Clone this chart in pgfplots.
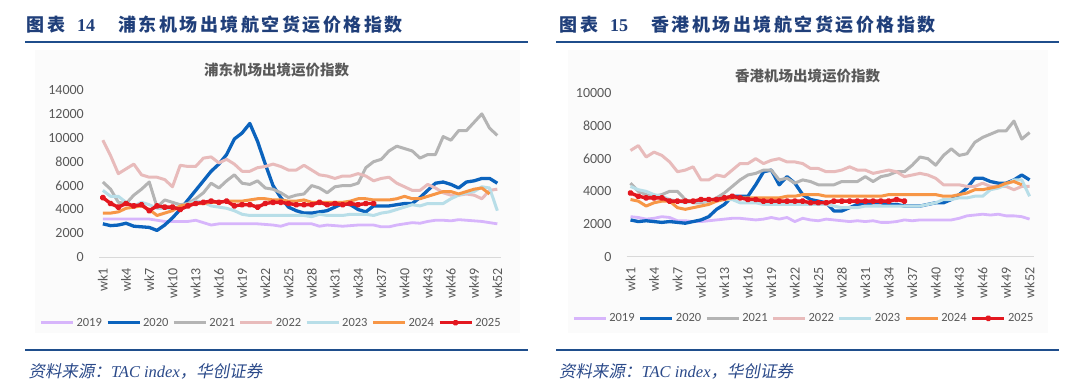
\documentclass[border=0pt]{standalone}
\usepackage{fontspec}
\usepackage{pgfplots}
\usepackage{pgfplotstable}
\pgfplotsset{compat=1.18}
\setmainfont{Carlito}
\newfontfamily\cjk{Noto Sans CJK SC}
\newfontfamily\cjkt[LetterSpace=14]{Noto Sans CJK SC}
\newfontfamily\cjkit[FakeSlant=0.18]{Noto Sans CJK SC}
\newfontfamily\serif{Liberation Serif}
\definecolor{c19}{HTML}{D7B5FB}
\definecolor{c20}{HTML}{0B63BD}
\definecolor{c21}{HTML}{B4B4B4}
\definecolor{c22}{HTML}{E8BBBB}
\definecolor{c23}{HTML}{B8DEE8}
\definecolor{c24}{HTML}{F79646}
\definecolor{c25}{HTML}{E3171F}
\definecolor{navy}{HTML}{203F7A}
\definecolor{navyline}{HTML}{1F4E8C}
\definecolor{labelgray}{HTML}{595959}
\definecolor{axisgray}{HTML}{D9D9D9}
\definecolor{footblue}{HTML}{2B4A8A}

\pgfplotstableread{
wk a b c d e f g
1 3200 2800 6300 9800 5600 3700 5000
2 3200 2650 5700 8500 5100 3700 4500
3 3200 2700 4600 7000 5100 3800 4200
4 3200 2850 4500 7400 4600 4100 4500
5 3200 2600 5200 7800 4300 4200 4300
6 3200 2550 5700 6900 4600 4300 4400
7 3200 2500 6300 6700 4400 4000 3900
8 3100 2250 4200 6700 4100 3500 4300
9 3000 2700 4800 6500 4100 3700 4200
10 3000 3300 4600 5900 4100 3900 4200
11 3000 4000 4400 7700 4300 4300 4000
12 3000 4800 4500 7600 4400 4400 4300
13 3100 5600 4900 7600 4700 4500 4500
14 2900 6400 5400 8300 4600 4500 4600
15 2700 7200 6200 8400 4300 4600 4700
16 2800 7800 5800 7900 4200 4600 4600
17 2800 8600 6400 8200 4100 4700 4700
18 2800 9900 6900 7800 3900 4700 4300
19 2800 10400 6200 7200 3600 4700 4400
20 2800 11200 6100 7200 3500 4800 4400
21 2800 9700 6400 7500 3500 4900 4200
22 2750 7800 5800 7600 3500 4900 4500
23 2700 6000 5700 7800 3500 4800 4600
24 2600 5000 5400 7600 3500 4800 4600
25 2800 4200 5000 7300 3500 4700 4500
26 2800 3900 5200 7300 3500 4700 4400
27 2800 3700 5300 7700 3500 4800 4400
28 2800 3700 6000 7300 3400 4600 4400
29 2600 3800 5800 6900 3600 4600 4600
30 2700 3900 5400 6800 3500 4600 4400
31 2650 4200 5900 6600 3500 4600 4500
32 2600 4500 6000 6800 3500 4600 4400
33 2650 4400 6000 6800 3600 4700 4500
34 2700 4000 6200 7000 3600 4900 4400
35 2700 3800 7500 6800 3600 4900 4500
36 2700 4300 8000 6400 3500 4800 4500
37 2550 4300 8200 6600 3700 4800 nan
38 2550 4300 8900 6700 3800 4800 nan
39 2700 4400 9300 6200 4000 4900 nan
40 2800 4500 9100 5900 4200 5100 nan
41 2900 4500 8900 5600 4400 4900 nan
42 2850 5000 8300 5600 4300 4900 nan
43 3000 5600 8600 6100 4500 5100 nan
44 3100 6200 8600 5800 4500 5300 nan
45 3100 6300 10100 5400 4500 5500 nan
46 3050 6100 9800 5200 4900 5500 nan
47 3150 5800 10600 5200 5200 5300 nan
48 3100 6300 10600 5300 5400 5500 nan
49 3050 6400 11300 5200 5500 5700 nan
50 3000 6600 12000 4900 5900 5800 nan
51 2900 6600 10800 5600 5800 5300 nan
52 2800 6200 10200 5700 3900 nan nan
}\pudong

\pgfplotstableread{
wk a b c d e f g
1 2450 2250 4500 6500 4300 3500 3900
2 2400 2150 4000 6800 4100 3400 3700
3 2300 2200 3800 6100 4000 3100 3600
4 2350 2150 3700 6400 3800 3300 3600
5 2450 2100 3800 6200 3700 3400 3600
6 2400 2150 4000 5800 3500 3400 3400
7 2200 2100 4000 5200 3400 3000 3400
8 2200 2050 3500 5300 3300 2900 3400
9 2150 2150 3300 5500 3400 3000 3400
10 2150 2250 3300 4700 3400 3100 3500
11 2200 2450 3400 4700 3400 3200 3500
12 2250 2900 3600 5000 3500 3400 3500
13 2300 3200 3900 4900 3500 3500 3600
14 2350 3700 4300 5300 3500 3600 3700
15 2350 3700 4700 5700 3300 3600 3600
16 2300 3700 5000 5700 3300 3600 3500
17 2250 4400 5100 6000 3300 3600 3500
18 2300 5200 5300 5700 3200 3600 3400
19 2400 5300 5300 5900 3200 3600 3400
20 2300 4400 4700 6000 3200 3600 3400
21 2400 4900 4800 5800 3200 3700 3400
22 2150 4500 4500 5800 3200 3700 3400
23 2350 3800 4700 5700 3200 3800 3400
24 2250 3500 4600 5400 3200 3800 3300
25 2200 3400 4400 5400 3200 3800 3300
26 2300 3300 4400 5200 3200 3700 3300
27 2250 2800 4400 5200 3100 3700 3400
28 2200 2800 4600 5300 3000 3700 3400
29 2150 3000 4600 5500 3000 3700 3400
30 2200 3200 4600 5300 3000 3700 3400
31 2150 3200 4900 5300 3100 3700 3400
32 2200 3300 4600 5100 3100 3700 3400
33 2100 3300 4900 5200 3100 3700 3400
34 2100 3200 5000 5300 3100 3800 3400
35 2150 3200 5200 5200 3100 3800 3500
36 2250 3100 5200 4900 3100 3800 3400
37 2200 3100 5600 5000 3100 3800 nan
38 2250 3100 6100 5100 3100 3800 nan
39 2250 3200 6000 5000 3200 3800 nan
40 2250 3300 5600 4800 3300 3800 nan
41 2250 3300 6200 4400 3500 3700 nan
42 2250 3500 6600 4400 3500 3700 nan
43 2350 3800 6200 4400 3600 3800 nan
44 2500 4200 6300 4300 3600 3900 nan
45 2550 4800 7000 4300 3700 4100 nan
46 2600 4800 7300 4500 3700 4100 nan
47 2550 4600 7500 4300 4100 4200 nan
48 2600 4500 7700 4300 4200 4300 nan
49 2500 4500 7700 4300 4400 4500 nan
50 2500 4700 8300 4100 4700 4600 nan
51 2450 5000 7200 4300 4700 4400 nan
52 2300 4700 7600 4300 3700 nan nan
}\hongkong

\pgfplotsset{
  panel/.style={
    scale only axis,
    xmin=0.5, xmax=52.5, ymin=0,
    xtick={1,4,...,52},
    xticklabels={wk1,wk4,wk7,wk10,wk13,wk16,wk19,wk22,wk25,wk28,wk31,wk34,wk37,wk40,wk43,wk46,wk49,wk52},
    axis x line*=bottom, axis y line*=left,
    y axis line style={draw=none},
    x axis line style={draw=axisgray, line width=0.8pt, -},
    major tick length=0pt, tick style={draw=none},
    ticklabel style={font=\fontsize{14}{15}\selectfont, text=labelgray},
    /pgf/number format/assume math mode=true,
    /pgf/number format/1000 sep={},
    scaled y ticks=false,
    xticklabel style={rotate=90, anchor=east, inner sep=0pt},
    yticklabel style={anchor=east, inner sep=0pt},
    xticklabel shift=10.7pt, yticklabel shift=15pt,
    legend columns=7,
    legend image code/.code={\draw[##1, mark repeat=2, mark phase=2] plot coordinates {(0pt,0pt) (16pt,0pt) (32pt,0pt)};},
    every axis plot/.append style={line join=round},
  },
  legsty/.style={draw=none, fill=none, inner sep=0pt, outer sep=0pt,
    nodes={inner sep=2pt, text=labelgray, font=\fontsize{12.5}{13}\selectfont},
    /tikz/every even column/.append style={column sep=2pt}},
  s19/.style={c19, line width=2.8pt, no markers},
  s20/.style={c20, line width=3.3pt, no markers},
  s21/.style={c21, line width=3pt, no markers},
  s22/.style={c22, line width=3pt, no markers},
  s23/.style={c23, line width=3pt, no markers},
  s24/.style={c24, line width=3pt, no markers},
  s25/.style={c25, line width=3.4pt, mark=*, mark size=1.5pt, mark options={solid}},
}

\begin{document}
\begin{tikzpicture}
\fill[white] (0pt,0pt) rectangle (1080pt,386pt);
\fill[black!1.5] (35pt,53pt) rectangle (520pt,336pt);
\fill[black!1.5] (568pt,53pt) rectangle (1048pt,336pt);

% headers
\node[anchor=base west, inner sep=0pt, text=navy] at (26.7pt,354.2pt) {\cjkt\bfseries\fontsize{18}{20}\selectfont 图表};
\node[anchor=base west, inner sep=0pt, text=navy] at (77pt,354.2pt) {\serif\bfseries\fontsize{18}{20}\selectfont 14};
\node[anchor=base west, inner sep=0pt, text=navy] at (118pt,354.2pt) {\cjkt\bfseries\fontsize{18}{20}\selectfont 浦东机场出境航空货运价格指数};
\node[anchor=base west, inner sep=0pt, text=navy] at (559.5pt,354.2pt) {\cjkt\bfseries\fontsize{18}{20}\selectfont 图表};
\node[anchor=base west, inner sep=0pt, text=navy] at (609.8pt,354.2pt) {\serif\bfseries\fontsize{18}{20}\selectfont 15};
\node[anchor=base west, inner sep=0pt, text=navy] at (650.8pt,354.2pt) {\cjkt\bfseries\fontsize{18}{20}\selectfont 香港机场出境航空货运价格指数};
\draw[navyline, line width=2pt] (25pt,343.7pt) -- (528pt,343.7pt);
\draw[navyline, line width=2pt] (556pt,343.7pt) -- (1059pt,343.7pt);

% footers
\draw[navyline, line width=2pt] (25pt,36pt) -- (528pt,36pt);
\draw[navyline, line width=2pt] (556pt,36pt) -- (1059pt,36pt);
\node[anchor=base west, inner sep=0pt, text=footblue] at (28.3pt,8.2pt) {\fontsize{16.5}{18}\selectfont{\cjkit 资料来源：}{\serif\itshape TAC index}{\cjkit ，华创证券}};
\node[anchor=base west, inner sep=0pt, text=footblue] at (559pt,8.2pt) {\fontsize{16.5}{18}\selectfont{\cjkit 资料来源：}{\serif\itshape TAC index}{\cjkit ，华创证券}};

% chart titles
\node[anchor=base, inner sep=0pt, text=labelgray] at (276.6pt,310.5pt) {\cjk\bfseries\fontsize{14.5}{16}\selectfont 浦东机场出境运价指数};
\node[anchor=base, inner sep=0pt, text=labelgray] at (807.6pt,304.5pt) {\cjk\bfseries\fontsize{14.5}{16}\selectfont 香港机场出境运价指数};

\begin{axis}[panel, at={(99pt,128.7pt)}, anchor=south west,
  width=402.2pt, height=167.3pt, ymax=14000, ytick={0,2000,...,14000},
  legend style={legsty, at={(-0.1474,-0.391)}, anchor=west}]
\addplot[s19] table[x=wk,y=a] {\pudong}; \addlegendentry{2019}
\addplot[s20] table[x=wk,y=b] {\pudong}; \addlegendentry{2020}
\addplot[s21] table[x=wk,y=c] {\pudong}; \addlegendentry{2021}
\addplot[s22] table[x=wk,y=d] {\pudong}; \addlegendentry{2022}
\addplot[s23] table[x=wk,y=e] {\pudong}; \addlegendentry{2023}
\addplot[s24] table[x=wk,y=f] {\pudong}; \addlegendentry{2024}
\addplot[s25] table[x=wk,y=g] {\pudong}; \addlegendentry{2025}
\end{axis}

\begin{axis}[panel, at={(626.6pt,129.3pt)}, anchor=south west,
  width=406.9pt, height=163.4pt, ymax=10000, ytick={0,2000,...,10000},
  legend style={legsty, at={(-0.133,-0.377)}, anchor=west}]
\addplot[s19] table[x=wk,y=a] {\hongkong}; \addlegendentry{2019}
\addplot[s20] table[x=wk,y=b] {\hongkong}; \addlegendentry{2020}
\addplot[s21] table[x=wk,y=c] {\hongkong}; \addlegendentry{2021}
\addplot[s22] table[x=wk,y=d] {\hongkong}; \addlegendentry{2022}
\addplot[s23] table[x=wk,y=e] {\hongkong}; \addlegendentry{2023}
\addplot[s24] table[x=wk,y=f] {\hongkong}; \addlegendentry{2024}
\addplot[s25] table[x=wk,y=g] {\hongkong}; \addlegendentry{2025}
\end{axis}
\end{tikzpicture}
\end{document}
